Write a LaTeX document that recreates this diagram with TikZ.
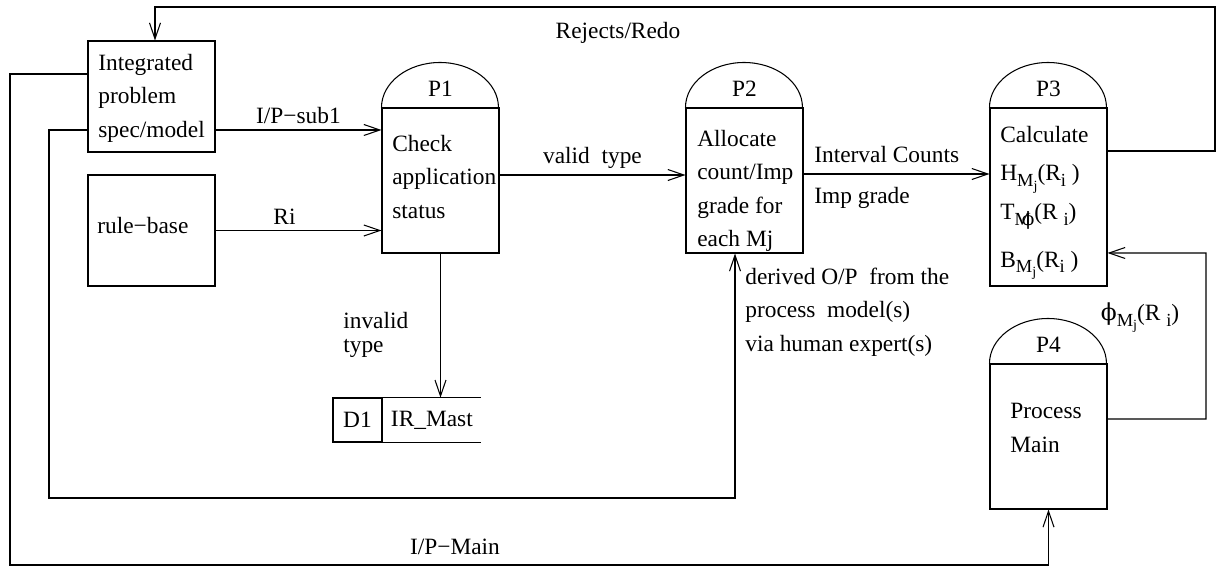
\documentclass[tikz,border=0pt]{standalone}
\usepackage{fontspec}
\setmainfont{Liberation Serif}
\newfontfamily\greekfont{DejaVu Serif}
\usepackage{tikz}
\usetikzlibrary{arrows.meta}
\newcommand{\lowsub}[1]{\raisebox{-0.5ex}{\fontsize{10.5}{11}\selectfont #1}}
\newcommand{\lowsubb}[1]{\raisebox{-0.45ex}{\fontsize{8}{8}\selectfont #1}}
\newcommand{\vphi}{{\greekfont ϕ}}
\tikzset{
    flow/.style={line width=0.6pt, -{Straight Barb[length=0.32cm, width=0.22cm, line width=0.6pt]}},
    extbox/.style={draw, line width=0.6pt, minimum width=2.54cm, minimum height=2.22cm},
    procbody/.style={draw, line width=0.6pt, minimum width=2.34cm, minimum height=2.9cm, inner sep=0pt},
    proctext/.style={anchor=west, align=left, inner sep=0pt}}

\begin{document}
\begin{tikzpicture}[x=0.02cm, y=-0.02cm, font=\fontsize{13.3}{19}\selectfont]
    \useasboundingbox (0,0) rectangle (1224,568);

    % external entities
    \node[extbox] (intg) at (151.5,96.5) {};
    \node[proctext] (intgtxt) at (98,98) {Integrated\\problem\\spec/model};
    \node[extbox] (rule) at (151.5,230.5) {};
    \node[proctext] (ruletxt) at (97,226) {rule−base};

    % processes
    \node[procbody] (p1) at (440.5,180.5) {};
    \node[procbody] (p2) at (744.5,180.5) {};
    \node[procbody, minimum height=3.56cm] (p3) at (1048.5,197) {};
    \node[procbody] (p4) at (1048.5,436.5) {};
    \foreach \p/\lbl in {p1/P1, p2/P2, p3/P3, p4/P4} {
        \draw[line width=0.6pt] (\p.north west) arc[start angle=180, end angle=0, x radius=1.17cm, y radius=0.9cm];
        \node (\p lbl) at ([yshift=0.37cm]\p.north) {\lbl};
    }
    \node[proctext] (p1txt) at (392,177) {Check\\application\\status};
    \node[proctext] (p2txt) at (697,191) {Allocate\\count/Imp\\grade for\\each Mj};
    \node[proctext] (p3txt) at (1000,203) {Calculate\\[2.7pt]
        H\lowsub{M\lowsubb{j}}(R\lowsub{i}\ )\\[3.2pt]
        T\lowsub{M\hspace{-0.5em}\vphi}(R\ \lowsub{i})\\[8pt]
        B\lowsub{M\lowsubb{j}}(R\lowsub{i}\ )};
    \node[proctext] (p4txt) at (1010,428) {Process\\Main};

    % data store
    \node[draw, line width=0.6pt, minimum width=0.98cm, minimum height=0.88cm] (d1) at (357.5,420) {D1};
    \node[anchor=west, minimum height=0.88cm, minimum width=1.96cm] (irm) at (d1.east) {IR\_Mast};
    \draw[line width=0.6pt] (irm.north west) -- (irm.north east);
    \draw[line width=0.6pt] (irm.south west) -- (irm.south east);

    % connection points
    \coordinate (redo) at ([yshift=0.92cm]p3.east);
    \coordinate (sub1) at ([yshift=-0.67cm]intg.east);
    \coordinate (derout) at ([yshift=-0.67cm]intg.west);
    \coordinate (mainout) at ([yshift=0.45cm]intg.west);
    \coordinate (valid) at ([yshift=0.11cm]p1.east);
    \coordinate (counts) at ([yshift=0.13cm]p2.east);
    \coordinate (phiout) at ([yshift=0.35cm]p4.east);

    % flows
    \draw[flow] (redo) -| (1215,7) -| ([xshift=0.07cm]intg.north);
    \node (redolbl) at (618,33) {Rejects/Redo};
    \draw[flow] (sub1) -- (sub1 -| p1.west) node[midway, above] {I/P−sub1};
    \draw[flow] (rule.east) -- (rule.east -| p1.west) node[midway, above, xshift=-0.28cm] {Ri};
    \draw[flow] (valid) -- (valid -| p2.west) node[midway, above] {valid\ \ type};
    \draw[flow] (counts) -- (counts -| p3.west);
    \node[proctext] (countlbl) at (814,155) {Interval Counts};
    \node[proctext] (gradelbl) at (814,198) {Imp grade};
    \draw[flow] (p1.south) -- (p1.south |- irm.north);
    \node[proctext, font=\fontsize{13.3}{13.6}\selectfont] (invlbl) at (343,335) {invalid\\type};
    \draw[flow] (mainout) -| (10,565) -| (p4.south);
    \node (mainlbl) at (455,547) {I/P−Main};
    \draw[flow] (derout) -| (49,498) -| ([xshift=-0.19cm]p2.south);
    \node[proctext] (derlbl) at (745,312) {derived O/P\ \ from the\\process\ \ model(s)\\via human expert(s)};
    \draw[flow] (phiout) -| (1206,253) -- ([yshift=-1.12cm]p3.east);
    \node (philbl) at (1140,318) {\vphi\lowsub{M\lowsubb{j}}(R\ \lowsub{i})};

\end{tikzpicture}
\end{document}
